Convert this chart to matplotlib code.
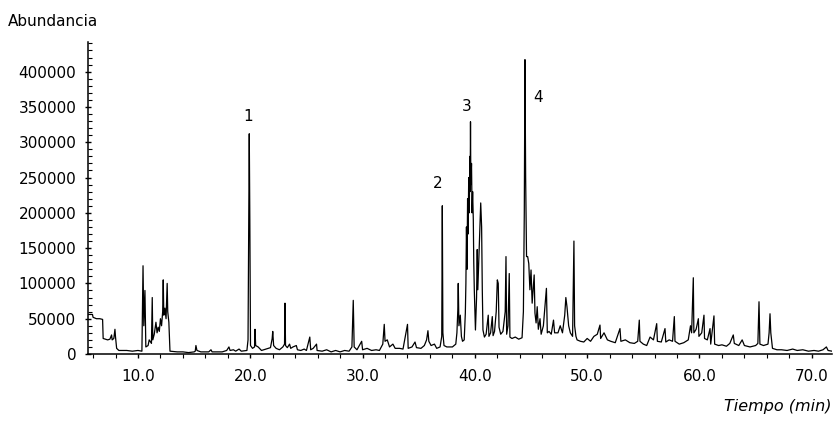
import numpy as np
import matplotlib
matplotlib.use("Agg")
import matplotlib.pyplot as plt
from matplotlib.ticker import MultipleLocator, FixedLocator

# ---- data ----
tiempo = [5.55, 5.95, 6.0, 6.3, 6.6, 6.85, 6.9, 7.3, 7.5, 7.65, 7.7, 7.85, 7.95, 8.0, 8.1, 8.3, 9.0, 9.5, 10.0,
          10.35, 10.45, 10.52, 10.62, 10.7, 10.9, 11.0, 11.2, 11.27, 11.32, 11.45, 11.6, 11.7, 11.8, 11.9, 12.0,
          12.1, 12.2, 12.25, 12.3, 12.4, 12.5, 12.6, 12.65, 12.75, 12.85, 13.5, 14.0, 14.5, 15.0, 15.1, 15.16,
          15.25, 15.6, 16.3, 16.5, 16.6, 17.5, 17.9, 18.1, 18.2, 18.5, 18.7, 19.0, 19.2, 19.7, 19.8, 19.86, 19.91,
          19.96, 20.02, 20.2, 20.38, 20.42, 20.48, 20.7, 21.0, 21.4, 21.8, 21.95, 22.0, 22.08, 22.3, 22.6, 22.9,
          23.05, 23.09, 23.14, 23.3, 23.5, 23.6, 23.8, 24.1, 24.2, 24.5, 24.8, 25.0, 25.3, 25.38, 25.6, 25.9,
          25.95, 26.4, 26.8, 27.2, 27.6, 28.0, 28.4, 28.8, 29.05, 29.17, 29.25, 29.5, 29.92, 30.0, 30.4, 30.8,
          31.2, 31.5, 31.8, 31.93, 32.0, 32.2, 32.4, 32.7, 32.9, 33.3, 33.6, 34.0, 34.06, 34.4, 34.67, 34.8, 35.2,
          35.5, 35.7, 35.82, 35.9, 36.1, 36.4, 36.6, 36.9, 37.05, 37.1, 37.15, 37.25, 37.5, 38.0, 38.3, 38.4,
          38.48, 38.52, 38.58, 38.7, 38.8, 38.9, 39.05, 39.15, 39.2, 39.25, 39.3, 39.35, 39.4, 39.45, 39.5,
          39.55, 39.58, 39.61, 39.64, 39.7, 39.75, 39.8, 39.86, 39.9, 39.95, 40.0, 40.05, 40.15, 40.21, 40.26,
          40.35, 40.45, 40.52, 40.6, 40.66, 40.72, 40.85, 41.0,
          41.19, 41.25, 41.4, 41.55, 41.62, 41.75, 41.9, 42.0, 42.08, 42.15, 42.3, 42.5, 42.7, 42.77, 42.83,
          42.95, 43.06, 43.12, 43.3, 43.6, 43.9, 44.2, 44.32, 44.4, 44.46, 44.52, 44.6, 44.7, 44.8, 44.9, 45.0,
          45.1, 45.2, 45.28, 45.35, 45.45, 45.55, 45.65, 45.8, 45.9, 46.1, 46.37, 46.45, 46.6, 46.8, 47.0, 47.1,
          47.4, 47.6, 47.8, 48.0, 48.1, 48.2, 48.35, 48.5, 48.7, 48.82, 48.88, 49.0, 49.1, 49.4, 49.7, 50.0,
          50.3, 50.6, 50.9, 51.14, 51.2, 51.5, 51.8, 52.1, 52.5, 52.92, 53.0, 53.4, 53.8, 54.2, 54.5, 54.64,
          54.7, 55.0, 55.3, 55.6, 55.9, 56.19, 56.25, 56.6, 56.93, 57.0, 57.3, 57.6, 57.76, 57.82, 58.2, 58.6,
          59.0, 59.2, 59.3, 59.45, 59.5, 59.7, 59.9, 59.95, 60.2, 60.4, 60.45, 60.7, 60.94, 61.0, 61.29, 61.35,
          61.7, 62.0, 62.4, 62.7, 63.01, 63.1, 63.5, 63.8, 64.0, 64.5, 65.0, 65.2, 65.3, 65.38, 65.7, 66.1,
          66.2, 66.28, 66.35, 66.5, 66.9, 67.3, 67.8, 68.3, 68.7, 69.2, 69.7, 70.2, 70.6, 71.0, 71.3, 71.45, 71.8]

abundancia_k = [56, 56, 52, 50, 50, 49, 22, 20, 21, 27, 20, 22, 35, 24, 8, 5, 5, 4, 5,
                4, 125, 40, 90, 10, 12, 20, 15, 80, 20, 28, 45, 30, 38, 32, 50,
                40, 60, 105, 55, 65, 50, 100, 60, 45, 4, 3, 3, 2, 3, 4, 12,
                5, 3, 3, 6, 3, 3, 5, 10, 5, 6, 4, 7, 4, 5, 20, 180, 312,
                190, 12, 8, 10, 35, 12, 10, 5, 7, 9, 22, 32, 12, 8, 6, 10,
                14, 72, 12, 9, 14, 8, 10, 12, 6, 5, 7, 5, 24, 6, 8, 14,
                5, 4, 6, 3, 5, 3, 5, 4, 10, 76, 10, 6, 18, 6, 8, 5,
                6, 5, 14, 42, 18, 20, 10, 14, 8, 8, 7, 42, 8, 10, 17, 9, 8,
                12, 20, 33, 18, 12, 14, 8, 10, 25, 210, 30, 12, 10, 10, 14, 30,
                62, 100, 40, 55, 25, 18, 20, 58, 100, 180, 120, 220, 170, 250, 200,
                280, 230, 329, 240, 270, 200, 230, 190, 130, 90, 60, 34, 80, 148, 91,
                133, 180, 214, 180, 91, 34, 24, 28,
                55, 25, 30, 53, 26, 32, 60, 105, 100, 38, 28, 32, 60, 138, 28,
                40, 114, 24, 22, 24, 21, 23, 60, 200, 417, 250, 138, 138, 128, 91, 119,
                72, 95, 112, 58, 44, 67, 35, 50, 28, 40, 93, 30, 32, 28, 48, 30,
                30, 40, 30, 55, 80, 67, 40, 30, 25, 160, 40, 25, 20, 18, 17, 22,
                18, 25, 28, 41, 22, 30, 20, 18, 16, 36, 18, 20, 16, 15, 18, 48,
                18, 14, 12, 24, 20, 43, 18, 17, 36, 17, 20, 18, 53, 18, 14, 16,
                20, 40, 30, 108, 30, 35, 50, 25, 30, 55, 22, 20, 36, 14, 54, 14,
                12, 13, 11, 15, 27, 15, 12, 20, 12, 10, 12, 15, 74, 14, 12, 14,
                30, 57, 30, 8, 6, 6, 5, 7, 5, 6, 4, 5, 4, 6, 10, 5, 4]

abundancia = np.array(abundancia_k) * 1000

pico_etiquetas = ["1", "2", "3", "4"]
pico_t = [19.8, 36.7, 39.3, 45.6]
pico_y = [336000, 241000, 350000, 363000]

y_ticks = [0, 50000, 100000, 150000, 200000, 250000, 300000, 350000, 400000]
x_ticks = [10.0, 20.0, 30.0, 40.0, 50.0, 60.0, 70.0]
x_ticklabels = ["10.0", "20.0", "30.0", "40.0", "50.0", "60.0", "70.0"]

# ---- figure ----
plt.rcParams['font.family'] = ['DejaVu Sans']
fig = plt.figure(figsize=(8.34, 4.24), dpi=100)
ax = fig.add_axes([88 / 834, 1 - 354 / 424, (832 - 88) / 834, (354 - 42) / 424])

ax.plot(tiempo, abundancia, color='black', lw=0.9)

ax.set_xlim(5.55, 71.8)
ax.set_ylim(0, 442000)

for s in ['top', 'right']:
    ax.spines[s].set_visible(False)
for s in ['left', 'bottom']:
    ax.spines[s].set_linewidth(1.1)

ax.set_yticks(y_ticks)
ax.set_yticklabels([str(v) for v in y_ticks])
ax.yaxis.set_minor_locator(MultipleLocator(10000))
ax.set_xticks(x_ticks)
ax.set_xticklabels(x_ticklabels)
ax.xaxis.set_minor_locator(FixedLocator(np.arange(6, 72, 2)))

ax.tick_params(axis='y', which='major', direction='inout', length=5, width=1, labelsize=11, pad=6)
ax.tick_params(axis='y', which='minor', direction='in', length=3, width=0.8)
ax.tick_params(axis='x', which='major', direction='out', length=3, width=1, labelsize=11, pad=8)
ax.tick_params(axis='x', which='minor', direction='out', length=3, width=0.8)

for lab, t, y in zip(pico_etiquetas, pico_t, pico_y):
    ax.text(t, y, lab, ha='center', va='center', fontsize=11)

fig.text(8 / 834, 1 - 22 / 424, "Abundancia", ha='left', va='center', fontsize=11)
fig.text(832 / 834, 1 - 406 / 424, "Tiempo (min)", ha='right', va='center', fontsize=11.5, style='italic')

fig.savefig("out.png", dpi=100)
